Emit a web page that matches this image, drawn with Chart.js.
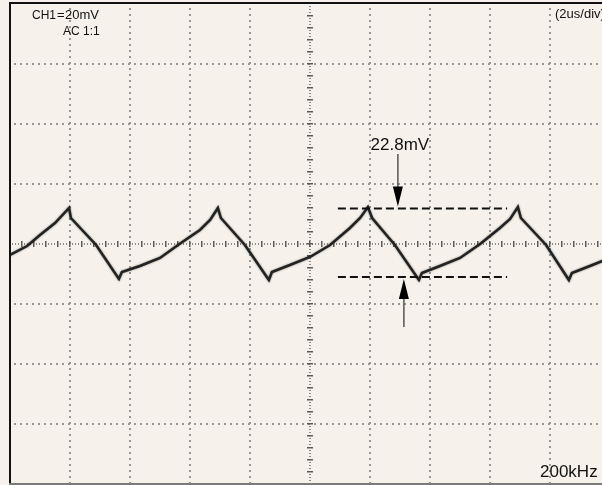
<!DOCTYPE html>
<html>
<head>
<meta charset="utf-8">
<title>CH1 ripple, 200kHz</title>
<script src="https://cdn.jsdelivr.net/npm/chart.js@4.4.1/dist/chart.umd.min.js"></script>
<style>
  html, body { margin: 0; padding: 0; width: 602px; height: 485px; overflow: hidden; background: #f6f2eb; }
  #wrap { position: absolute; left: 0; top: 0; width: 620px; height: 485px; }
</style>
</head>
<body>
<div id="wrap"><canvas id="scope" width="620" height="485"></canvas></div>
<script>
// Horizontal: 2 us/div, 10 divisions. Vertical: 20 mV/div, 8 divisions, AC coupled.
const timeTicks = [0, 2, 4, 6, 8, 10, 12, 14, 16, 18, 20];        // us
const voltTicks = [-80, -60, -40, -20, 0, 20, 40, 60, 80];          // mV

// Captured ripple on CH1 (time in us, amplitude in mV)
const traceTime = [
  0.00, 0.57, 1.00, 1.50, 1.97, 2.03, 2.87, 3.63,
  3.73, 4.33, 5.00, 5.60, 6.33, 6.67, 6.93, 7.03, 7.83, 8.63,
  8.73, 9.33, 10.00, 10.67, 11.33, 11.67, 11.93, 12.07, 12.83, 13.63,
  13.73, 14.33, 15.00, 15.67, 16.33, 16.67, 16.93, 17.03, 17.87, 18.63,
  18.73, 19.33, 20.00
];
const traceVolt = [
  -3.67, -0.67, 3.00, 7.00, 12.00, 8.67, -0.33, -11.67,
  -9.33, -7.33, -4.67, -0.33, 4.67, 8.00, 12.00, 8.67, -0.33, -12.00,
  -9.33, -7.00, -4.33, -0.33, 5.33, 8.67, 12.33, 8.67, -0.33, -12.00,
  -9.67, -7.33, -4.67, 0.00, 5.33, 8.33, 12.33, 8.67, -0.33, -12.00,
  -9.67, -7.33, -4.67
];

// Peak-to-peak cursors
const cursorHigh = 11.8;                 // mV
const cursorLow = -11.0;                 // mV
const cursorSpan = [10.93, 16.57];       // us
const arrowDownTime = 12.93;             // us
const arrowUpTime = 13.13;               // us
const arrowDownTop = 30.0;               // mV
const arrowUpBottom = -27.7;             // mV

const BG = '#f6f2eb';
const FONT = '"Liberation Sans", Arial, Helvetica, sans-serif';

const tracePoints = traceTime.map((t, i) => ({ x: t, y: traceVolt[i] }));

// Graticule, centre cross with minor marks, frame, readouts and cursor arrows
const scopeDecor = {
  id: 'scopeDecor',
  beforeDraw(chart) {
    const { ctx, chartArea: a, scales: { x, y } } = chart;
    ctx.save();
    ctx.fillStyle = BG;
    ctx.fillRect(0, 0, chart.width, chart.height);

    const xMid = (x.min + x.max) / 2;
    const yMid = (y.min + y.max) / 2;

    ctx.fillStyle = '#979797';
    x.ticks.forEach(t => {
      if (t.value <= x.min || t.value >= x.max || t.value === xMid) return;
      const px = Math.round(x.getPixelForValue(t.value));
      for (let py = a.top + 4; py < a.bottom - 1; py += 6) ctx.fillRect(px - 1, py, 2, 2);
    });
    y.ticks.forEach(t => {
      if (t.value <= y.min || t.value >= y.max || t.value === yMid) return;
      const py = Math.round(y.getPixelForValue(t.value));
      for (let px = a.left + 4; px < a.right; px += 6) ctx.fillRect(px, py - 1, 2, 2);
    });

    // centre cross: denser dots plus a mark every 1/5 division
    const cx = Math.round(x.getPixelForValue(xMid));
    const cy = Math.round(y.getPixelForValue(yMid));
    ctx.fillStyle = '#8a8a8a';
    for (let py = a.top + 2; py < a.bottom - 1; py += 3) ctx.fillRect(cx - 1, py, 2, 1);
    for (let px = a.left + 2; px < a.right; px += 3) ctx.fillRect(px, cy - 1, 1, 2);
    ctx.fillStyle = '#5a5a5a';
    const xMinor = (timeTicks[1] - timeTicks[0]) / 5;
    const yMinor = (voltTicks[1] - voltTicks[0]) / 5;
    for (let v = x.min + xMinor; v < x.max; v += xMinor) {
      const px = Math.round(x.getPixelForValue(v));
      ctx.fillRect(px - 1, cy - 3, 1.5, 6);
    }
    for (let v = y.min + yMinor; v < y.max; v += yMinor) {
      const py = Math.round(y.getPixelForValue(v));
      ctx.fillRect(cx - 3, py - 1, 6, 1.5);
    }
    ctx.restore();
  },
  beforeDatasetDraw(chart, args) {
    // slight glow so the trace reads like a sampled, grainy line
    if (args.index === 0) {
      chart.ctx.save();
      chart.ctx.shadowColor = 'rgba(0,0,0,0.55)';
      chart.ctx.shadowBlur = 2;
    }
  },
  afterDatasetDraw(chart, args) {
    if (args.index === 0) chart.ctx.restore();
  },
  afterDraw(chart) {
    const { ctx, chartArea: a, scales: { x, y } } = chart;
    ctx.save();
    // frame
    ctx.fillStyle = '#111';
    ctx.fillRect(a.left, a.top - 2, a.right - a.left, 2);
    ctx.fillRect(a.left - 1, a.top - 2, 2, a.bottom - a.top + 2);
    ctx.fillStyle = '#7a7a7a';
    ctx.fillRect(a.left - 1, a.bottom - 1, a.right - a.left + 1, 2);

    // readouts
    ctx.fillStyle = '#111';
    ctx.textBaseline = 'alphabetic';
    ctx.textAlign = 'left';
    ctx.font = '12px ' + FONT;
    ctx.fillText('CH1', a.left + 22, 19);
    ctx.font = '13px ' + FONT;
    ctx.fillText('=', a.left + 47, 19);
    ctx.fillText('20mV', a.left + 55, 19);
    ctx.font = '12px ' + FONT;
    ctx.fillText('AC 1:1', a.left + 53, 35);
    ctx.font = '13px ' + FONT;
    ctx.fillText('(2us/div)', 555, 18);
    ctx.font = '17px ' + FONT;
    ctx.fillText('200kHz', 540, 477);

    // cursor arrows
    const drawArrow = (t, fromV, toV) => {
      const px = x.getPixelForValue(t);
      const p0 = y.getPixelForValue(fromV);
      const p1 = y.getPixelForValue(toV);
      const dir = Math.sign(p1 - p0);
      const tip = p1 - dir * 2;
      const headLen = 20, headHalf = 5;
      ctx.strokeStyle = '#555';
      ctx.lineWidth = 1.5;
      ctx.beginPath();
      ctx.moveTo(px, p0);
      ctx.lineTo(px, tip - dir * headLen + dir);
      ctx.stroke();
      ctx.fillStyle = '#000';
      ctx.beginPath();
      ctx.moveTo(px, tip);
      ctx.lineTo(px - headHalf, tip - dir * headLen);
      ctx.lineTo(px + headHalf, tip - dir * headLen);
      ctx.closePath();
      ctx.fill();
    };
    drawArrow(arrowDownTime, arrowDownTop, cursorHigh);
    drawArrow(arrowUpTime, arrowUpBottom, cursorLow);

    ctx.fillStyle = '#111';
    ctx.font = '17px ' + FONT;
    ctx.textAlign = 'center';
    ctx.fillText((cursorHigh - cursorLow).toFixed(1) + 'mV',
                 x.getPixelForValue(arrowDownTime) + 2, y.getPixelForValue(arrowDownTop) - 4);
    ctx.restore();
  }
};

new Chart(document.getElementById('scope'), {
  type: 'scatter',
  data: {
    datasets: [
      {
        label: 'CH1',
        data: tracePoints,
        showLine: true,
        borderColor: '#222',
        borderWidth: 2.5,
        pointRadius: 0,
        tension: 0,
        order: 2
      },
      {
        label: 'cursor high',
        data: [{ x: cursorSpan[0], y: cursorHigh }, { x: cursorSpan[1], y: cursorHigh }],
        showLine: true,
        borderColor: '#111',
        borderWidth: 2,
        borderDash: [8, 4],
        pointRadius: 0,
        order: 1
      },
      {
        label: 'cursor low',
        data: [{ x: cursorSpan[0], y: cursorLow }, { x: cursorSpan[1], y: cursorLow }],
        showLine: true,
        borderColor: '#111',
        borderWidth: 2,
        borderDash: [8, 4],
        pointRadius: 0,
        order: 1
      }
    ]
  },
  options: {
    responsive: false,
    animation: false,
    devicePixelRatio: 1,
    layout: { padding: { left: 10, top: 4, right: 10, bottom: 1 } },
    plugins: { legend: { display: false }, tooltip: { enabled: false } },
    scales: {
      x: {
        type: 'linear', display: false,
        min: timeTicks[0], max: timeTicks[timeTicks.length - 1],
        ticks: { stepSize: timeTicks[1] - timeTicks[0] }
      },
      y: {
        type: 'linear', display: false,
        min: voltTicks[0], max: voltTicks[voltTicks.length - 1],
        ticks: { stepSize: voltTicks[1] - voltTicks[0] }
      }
    }
  },
  plugins: [scopeDecor]
});
</script>
</body>
</html>
